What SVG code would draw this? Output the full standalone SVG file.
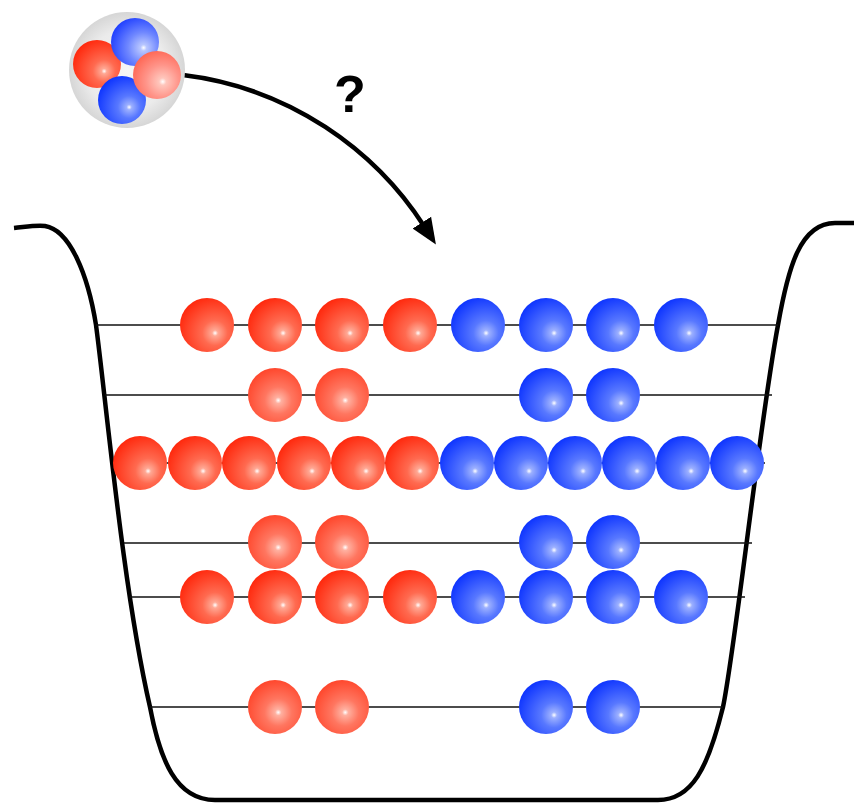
<svg xmlns="http://www.w3.org/2000/svg" xmlns:xlink="http://www.w3.org/1999/xlink" width="854" height="803" viewBox="0 0 854 803">
  <style>
    .level { stroke: #111; stroke-width: 1.6; fill: none; }
    .wall { stroke: #000; stroke-width: 4.5; fill: none; stroke-linejoin: round; stroke-linecap: butt; }
    .arrow { stroke: #000; stroke-width: 4.5; fill: none; }
    .label { font-family: "Liberation Sans", Arial, sans-serif; font-weight: bold; font-size: 52px; fill: #000; }
  </style>
  <defs>
    <!-- shaded spheres: light spot towards lower right -->
    <radialGradient id="redDeep" cx="0.64" cy="0.64" r="0.78" fx="0.65" fy="0.65">
      <stop offset="0" stop-color="#ffffff"/>
      <stop offset="0.07" stop-color="#ffa894"/>
      <stop offset="0.3" stop-color="#ff6a50"/>
      <stop offset="1" stop-color="#ff1c00"/>
    </radialGradient>
    <radialGradient id="redLight" cx="0.56" cy="0.6" r="0.72" fx="0.56" fy="0.6">
      <stop offset="0" stop-color="#ffffff"/>
      <stop offset="0.08" stop-color="#ffb0a0"/>
      <stop offset="0.35" stop-color="#ff7660"/>
      <stop offset="1" stop-color="#ff381c"/>
    </radialGradient>
    <radialGradient id="redPale" cx="0.6" cy="0.62" r="0.75" fx="0.62" fy="0.64">
      <stop offset="0" stop-color="#ffffff"/>
      <stop offset="0.1" stop-color="#ffc6bc"/>
      <stop offset="0.45" stop-color="#ff958a"/>
      <stop offset="1" stop-color="#ff5a46"/>
    </radialGradient>
    <radialGradient id="blue" cx="0.64" cy="0.64" r="0.78" fx="0.65" fy="0.65">
      <stop offset="0" stop-color="#ffffff"/>
      <stop offset="0.07" stop-color="#9cb0ff"/>
      <stop offset="0.3" stop-color="#5878ff"/>
      <stop offset="1" stop-color="#0028ff"/>
    </radialGradient>
    <radialGradient id="bluePale" cx="0.66" cy="0.62" r="0.8" fx="0.68" fy="0.62">
      <stop offset="0" stop-color="#ffffff"/>
      <stop offset="0.08" stop-color="#b8c6ff"/>
      <stop offset="0.4" stop-color="#7088ff"/>
      <stop offset="1" stop-color="#0a2cff"/>
    </radialGradient>
    <radialGradient id="cloud" cx="0.5" cy="0.5" r="0.5">
      <stop offset="0" stop-color="#f6f6f6"/>
      <stop offset="0.7" stop-color="#ebebeb"/>
      <stop offset="1" stop-color="#d6d6d6"/>
    </radialGradient>
    <marker id="head" markerUnits="userSpaceOnUse" markerWidth="26" markerHeight="26" viewBox="0 0 26 26" refX="4" refY="13" orient="auto">
      <path d="M0,2 L26,13 L0,24 Z" fill="#000"/>
    </marker>
    <circle id="rd" r="27" fill="url(#redDeep)"/>
    <circle id="rl" r="27" fill="url(#redLight)"/>
    <circle id="bl" r="27" fill="url(#blue)"/>
  </defs>

  <rect width="854" height="803" fill="#fff"/>

  <!-- well -->
  <g id="well">
    <path class="wall" d="M14,228 C25,227 35,225 45,226 C70,230 88,275 96,325 C106,400 123,590 150,707 C160,760 176,800 215,800 L658,800 C692,800 708,768 723,707 C735,650 760,420 778,325 C788,268 800,223 835,223 L854,223"/>
  </g>

  <!-- energy levels -->
  <g id="levels">
    <line class="level" x1="96" y1="325" x2="778" y2="325"/>
    <line class="level" x1="105" y1="395" x2="772" y2="395"/>
    <line class="level" x1="115" y1="463" x2="765" y2="463"/>
    <line class="level" x1="124" y1="543" x2="752" y2="543"/>
    <line class="level" x1="130" y1="597" x2="745" y2="597"/>
    <line class="level" x1="150" y1="707" x2="723" y2="707"/>
  </g>

  <!-- connector: cluster to well -->
  <g id="connectors">
    <path class="arrow" d="M183,75 C290,88 375,150 424,226" marker-end="url(#head)"/>
    <text class="label" x="350" y="112" text-anchor="middle">?</text>
  </g>

  <!-- cluster of two protons and two neutrons -->
  <g id="cluster">
    <circle cx="127" cy="70" r="58" fill="url(#cloud)"/>
    <circle cx="97" cy="64" r="24" fill="url(#redDeep)"/>
    <circle cx="122" cy="100" r="24" fill="url(#blue)"/>
    <circle cx="135" cy="42" r="24" fill="url(#bluePale)"/>
    <circle cx="157" cy="75" r="24" fill="url(#redPale)"/>
  </g>

  <!-- level 1 -->
  <g id="row1">
    <use href="#rd" x="207" y="325"/><use href="#rd" x="275" y="325"/><use href="#rd" x="342" y="325"/><use href="#rd" x="410" y="325"/>
    <use href="#bl" x="478" y="325"/><use href="#bl" x="546" y="325"/><use href="#bl" x="613" y="325"/><use href="#bl" x="681" y="325"/>
  </g>
  <!-- level 2 -->
  <g id="row2">
    <use href="#rl" x="275" y="395"/><use href="#rl" x="342" y="395"/>
    <use href="#bl" x="546" y="395"/><use href="#bl" x="613" y="395"/>
  </g>
  <!-- level 3 -->
  <g id="row3">
    <use href="#rd" x="140" y="463"/><use href="#rd" x="195" y="463"/><use href="#rd" x="249" y="463"/><use href="#rd" x="304" y="463"/><use href="#rd" x="358" y="463"/><use href="#rd" x="412" y="463"/>
    <use href="#bl" x="467" y="463"/><use href="#bl" x="521" y="463"/><use href="#bl" x="575" y="463"/><use href="#bl" x="629" y="463"/><use href="#bl" x="683" y="463"/><use href="#bl" x="737" y="463"/>
  </g>
  <!-- level 4 -->
  <g id="row4">
    <use href="#rl" x="275" y="542"/><use href="#rl" x="342" y="542"/>
    <use href="#bl" x="546" y="542"/><use href="#bl" x="613" y="542"/>
  </g>
  <!-- level 5 -->
  <g id="row5">
    <use href="#rd" x="207" y="597"/><use href="#rd" x="275" y="597"/><use href="#rd" x="342" y="597"/><use href="#rd" x="410" y="597"/>
    <use href="#bl" x="478" y="597"/><use href="#bl" x="546" y="597"/><use href="#bl" x="613" y="597"/><use href="#bl" x="681" y="597"/>
  </g>
  <!-- level 6 -->
  <g id="row6">
    <use href="#rl" x="275" y="707"/><use href="#rl" x="342" y="707"/>
    <use href="#bl" x="546" y="707"/><use href="#bl" x="613" y="707"/>
  </g>
</svg>
